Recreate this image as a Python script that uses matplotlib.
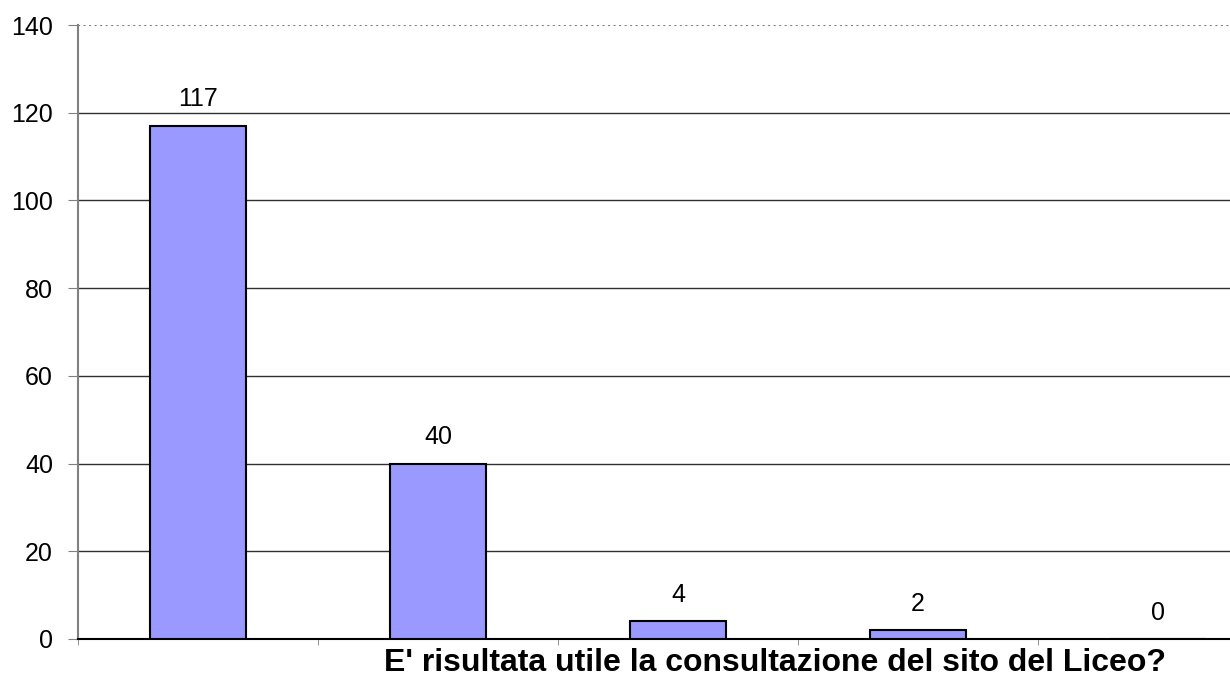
import numpy as np
import matplotlib.pyplot as plt

# dati del sondaggio
categorie = ['A', 'B', 'C', 'D', 'E']
valori = [117, 40, 4, 2, 0]
yticks = [0, 20, 40, 60, 80, 100, 120, 140]
titolo_x = "E' risultata utile la consultazione del sito del Liceo?"

plt.rcParams['font.family'] = ['Liberation Sans', 'DejaVu Sans']

fig = plt.figure(figsize=(12.3, 6.77), dpi=100)
ax = fig.add_axes([78/1230, 1-639/677, 1-78/1230, (639-25)/677])

x = np.arange(len(categorie))
bars = ax.bar(x, valori, width=0.4, color='#9999FF', edgecolor='black', linewidth=1.5, zorder=3)

for xi, v in zip(x, valori):
	ax.annotate(str(v), (xi, v), xytext=(0, 19), textcoords='offset points',
				ha='center', va='center', fontsize=18)

#assi
ax.set_yticks(yticks)
ax.tick_params(axis='y', labelsize=18, length=7, color='#808080', pad=11)
ax.set_xticks([])
ax.set_xticks(np.arange(-0.5, 5, 1), minor=True)
ax.tick_params(axis='x', which='minor', length=4, color='#808080')
ax.set_xlim(-0.5, 4.3)
ax.set_ylim(0, 140)

#griglia
ax.hlines(yticks[1:-1], -0.5, 4.3, color='#303030', linewidth=1, zorder=0)
ax.axhline(140, color='#808080', linewidth=1.5, linestyle=':', zorder=1)
ax.spines['top'].set_visible(False)
ax.spines['right'].set_visible(False)
ax.spines['left'].set_color('#808080')
ax.spines['left'].set_linewidth(1.5)
ax.spines['bottom'].set_color('black')
ax.spines['bottom'].set_linewidth(1.5)

fig.text(775/1230, 1-663/677, titolo_x, ha='center', va='center', fontsize=23, fontweight='bold')

fig.savefig("out.png")
